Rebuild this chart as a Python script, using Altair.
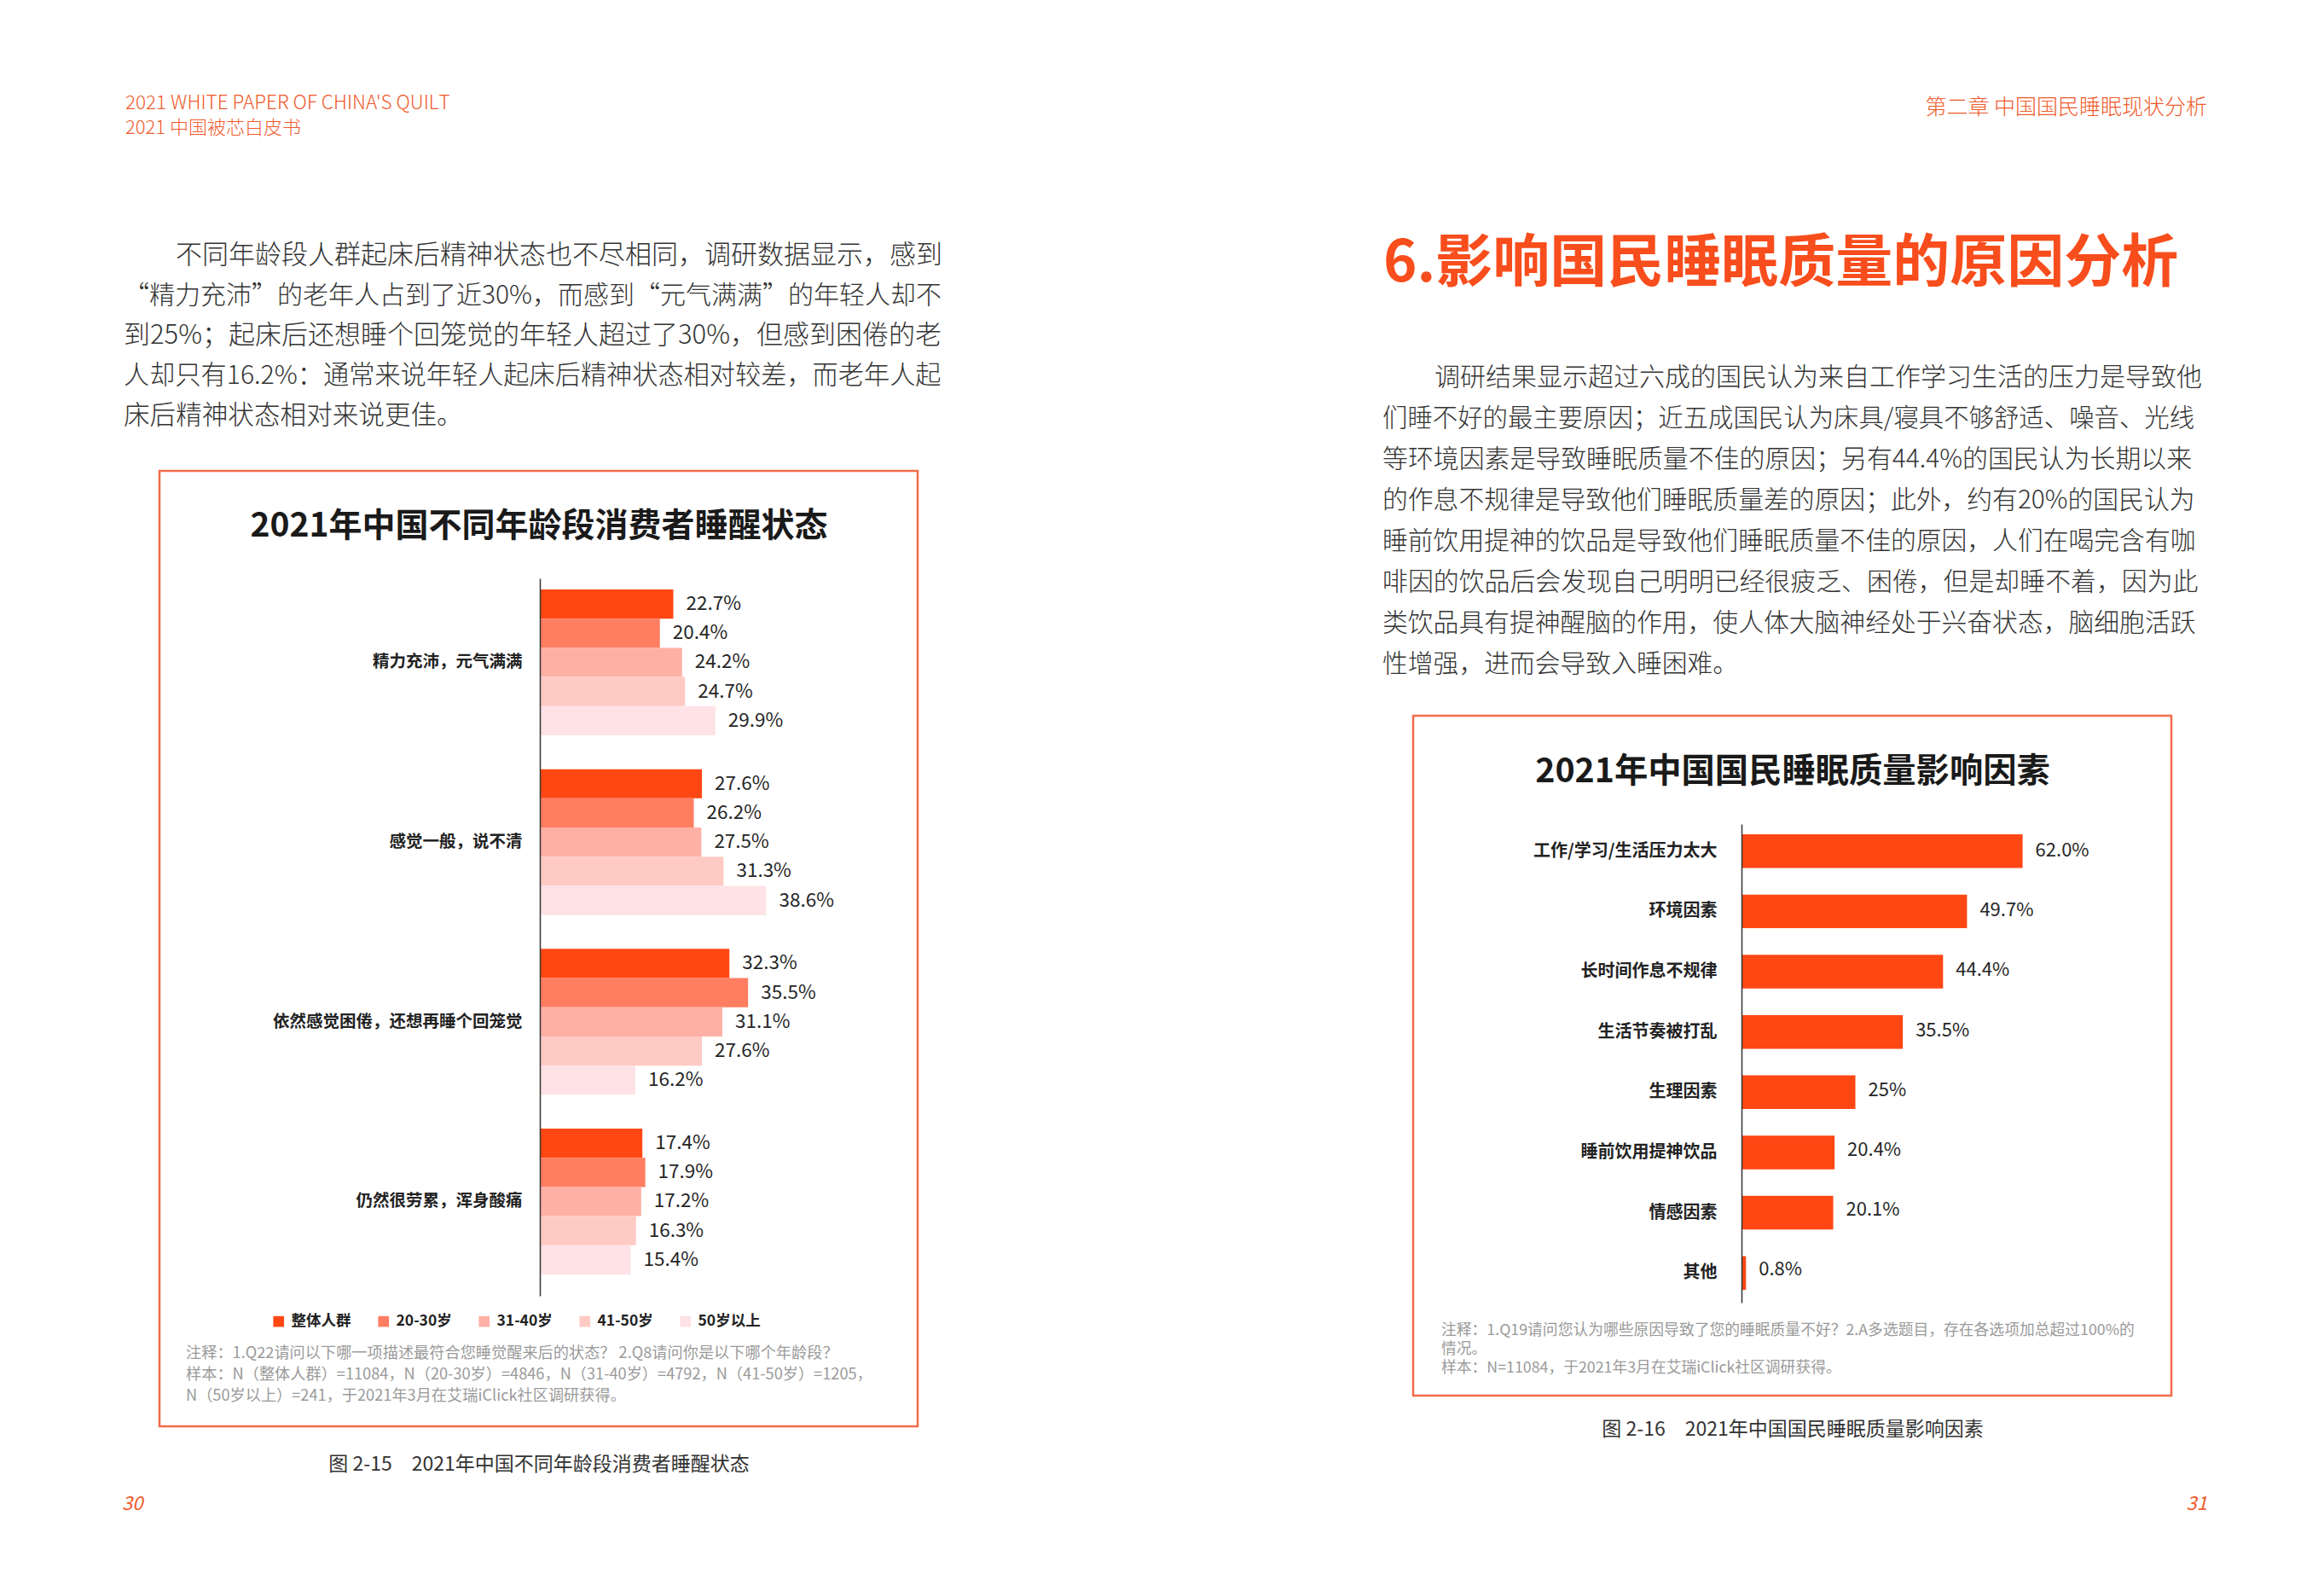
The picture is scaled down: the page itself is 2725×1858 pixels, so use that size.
import altair as alt
import pandas as pd

FONT = "Noto Sans CJK SC"
OFF = 8  # page margin

# ---------------- data: chart 1 (wake-up state by age group) ----------------
wake_states = ["精力充沛，元气满满", "感觉一般，说不清", "依然感觉困倦，还想再睡个回笼觉", "仍然很劳累，浑身酸痛"]
age_groups = ["整体人群", "20-30岁", "31-40岁", "41-50岁", "50岁以上"]
vals_all = [22.7, 27.6, 32.3, 17.4]
vals_20_30 = [20.4, 26.2, 35.5, 17.9]
vals_31_40 = [24.2, 27.5, 31.1, 17.2]
vals_41_50 = [24.7, 31.3, 27.6, 16.3]
vals_50_plus = [29.9, 38.6, 16.2, 15.4]
age_colors = ["#FF4714", "#FF7D60", "#FFB0A5", "#FFCAC4", "#FFE2E6"]

# ---------------- data: chart 2 (sleep quality factors) ----------------
factors = ["工作/学习/生活压力太大", "环境因素", "长时间作息不规律", "生活节奏被打乱",
           "生理因素", "睡前饮用提神饮品", "情感因素", "其他"]
factor_vals = [62.0, 49.7, 44.4, 35.5, 25.0, 20.4, 20.1, 0.8]
factor_labels = ["62.0%", "49.7%", "44.4%", "35.5%", "25%", "20.4%", "20.1%", "0.8%"]

# ---------------- page texts ----------------
header_left = ["2021 WHITE PAPER OF CHINA'S QUILT", "2021 中国被芯白皮书"]
header_right = "第二章 中国国民睡眠现状分析"
section_title = "6.影响国民睡眠质量的原因分析"
para_left = [
    "不同年龄段人群起床后精神状态也不尽相同，调研数据显示，感到",
    "“精力充沛”的老年人占到了近30%，而感到“元气满满”的年轻人却不",
    "到25%；起床后还想睡个回笼觉的年轻人超过了30%，但感到困倦的老",
    "人却只有16.2%：通常来说年轻人起床后精神状态相对较差，而老年人起",
    "床后精神状态相对来说更佳。",
]
para_right = [
    "调研结果显示超过六成的国民认为来自工作学习生活的压力是导致他",
    "们睡不好的最主要原因；近五成国民认为床具/寝具不够舒适、噪音、光线",
    "等环境因素是导致睡眠质量不佳的原因；另有44.4%的国民认为长期以来",
    "的作息不规律是导致他们睡眠质量差的原因；此外，约有20%的国民认为",
    "睡前饮用提神的饮品是导致他们睡眠质量不佳的原因，人们在喝完含有咖",
    "啡因的饮品后会发现自己明明已经很疲乏、困倦，但是却睡不着，因为此",
    "类饮品具有提神醒脑的作用，使人体大脑神经处于兴奋状态，脑细胞活跃",
    "性增强，进而会导致入睡困难。",
]
chart1_title = "2021年中国不同年龄段消费者睡醒状态"
chart2_title = "2021年中国国民睡眠质量影响因素"
notes_left = [
    "注释：1.Q22请问以下哪一项描述最符合您睡觉醒来后的状态？ 2.Q8请问你是以下哪个年龄段？",
    "样本：N（整体人群）=11084，N（20-30岁）=4846，N（31-40岁）=4792，N（41-50岁）=1205，",
    "N（50岁以上）=241，于2021年3月在艾瑞iClick社区调研获得。",
]
notes_right = [
    "注释：1.Q19请问您认为哪些原因导致了您的睡眠质量不好？2.A多选题目，存在各选项加总超过100%的",
    "情况。",
    "样本：N=11084，于2021年3月在艾瑞iClick社区调研获得。",
]
caption_left = "图 2-15　2021年中国不同年龄段消费者睡醒状态"
caption_right = "图 2-16　2021年中国国民睡眠质量影响因素"
page_nums = ["30", "31"]

ORANGE = "#EF5A2B"
TITLE_RED = "#F84D1C"
BOX = "#F26B4B"
BODY = "#333333"
NOTE = "#9A9A9A"


def txt(rows, align="left", weight="normal", style="normal"):
    df = pd.DataFrame(rows, columns=["text", "x", "y", "size", "color"])
    df["x"] = df["x"] - OFF
    df["y"] = df["y"] - OFF
    return alt.Chart(df).mark_text(
        align=align, baseline="middle", font=FONT, fontWeight=weight, fontStyle=style
    ).encode(
        x=alt.X("x:Q", scale=None, axis=None),
        y=alt.Y("y:Q", scale=None, axis=None),
        size=alt.Size("size:Q", scale=None, legend=None),
        color=alt.Color("color:N", scale=None, legend=None),
        text="text:N",
    )


layers = []

# frames around the two charts
frames = pd.DataFrame({
    "x": [187 - OFF, 1657 - OFF], "x2": [1076 - OFF, 2546 - OFF],
    "y": [552 - OFF, 839 - OFF], "y2": [1672 - OFF, 1636 - OFF],
})
layers.append(
    alt.Chart(frames).mark_rect(fillOpacity=0, stroke=BOX, strokeWidth=2.5).encode(
        x=alt.X("x:Q", scale=None, axis=None), x2="x2:Q",
        y=alt.Y("y:Q", scale=None, axis=None), y2="y2:Q",
    )
)

# light body text: headers and paragraphs (sizes tuned so lines fill the justified width)
left_sizes = [31, 30.0, 31, 30.2, 30.6]
right_sizes = [30.0, 29.4, 29.9, 29.8, 29.8, 29.9, 29.8, 29.8]
light_rows = [
    (header_left[0], 147, 121, 22.5, ORANGE),
    (header_left[1], 147, 150, 22, ORANGE),
]
for i, line in enumerate(para_left):
    light_rows.append((line, 206 if i == 0 else 145, 300 + 47 * i, left_sizes[i], BODY))
for i, line in enumerate(para_right):
    light_rows.append((line, 1682 if i == 0 else 1621, 443 + 48 * i, right_sizes[i], BODY))
layers.append(txt(light_rows, weight=300))
layers.append(txt([(header_right, 2588, 126, 25, ORANGE)], align="right", weight=300))

# bold titles
layers.append(txt([(section_title, 1622, 310, 67, TITLE_RED)], weight="bold"))
layers.append(txt([(chart1_title, 632, 617, 39, "#1A1A1A"),
                   (chart2_title, 2102, 905, 39.3, "#1A1A1A")], align="center", weight="bold"))

# notes, captions
note_rows = [(t, 218, 1587 + 25 * i, 18.2, NOTE) for i, t in enumerate(notes_left)]
note_rows += [(t, 1690, [1560, 1582, 1604][i], 17.8, NOTE) for i, t in enumerate(notes_right)]
layers.append(txt(note_rows))
layers.append(txt([(caption_left, 632, 1717, 23, BODY),
                   (caption_right, 2102, 1676, 23, BODY)], align="center"))
layers.append(txt([(page_nums[0], 143, 1763, 22, ORANGE)], style="italic"))
layers.append(txt([(page_nums[1], 2588, 1763, 22, ORANGE)], align="right", style="italic"))

# ---------------- chart 1: grouped horizontal bars ----------------
rows = []
for g, vals in zip(age_groups, [vals_all, vals_20_30, vals_31_40, vals_41_50, vals_50_plus]):
    for s, v in zip(wake_states, vals):
        rows.append({"state": s, "group": g, "value": v, "label": f"{v:.1f}%"})
df1 = pd.DataFrame(rows)

L_AXIS = 633 - OFF
L_X0 = 634 - OFF
L_PX = 6.85
yL = alt.Scale(domain=wake_states, range=[678 - OFF, 1519 - OFF],
               paddingInner=0.1883, paddingOuter=0.0902, align=0.342)
yoL = alt.Scale(domain=age_groups, range=[0, 171.0], paddingInner=0, paddingOuter=0)
xL = alt.Scale(domain=[0, 100], range=[L_X0, L_X0 + 100 * L_PX])

bars1 = alt.Chart(df1).mark_bar().encode(
    x=alt.X("value:Q", scale=xL, axis=None),
    y=alt.Y("state:N", sort=wake_states, scale=yL,
            axis=alt.Axis(orient="left", offset=-L_AXIS, title=None, ticks=False, grid=False,
                          domain=True, domainColor="#333333", domainWidth=1.5, zindex=1,
                          labelFont=FONT, labelFontSize=19.5, labelFontWeight="bold",
                          labelColor="#222222", labelPadding=21, labelLimit=500)),
    yOffset=alt.YOffset("group:N", sort=age_groups, scale=yoL),
    color=alt.Color("group:N", sort=age_groups,
                    scale=alt.Scale(domain=age_groups, range=age_colors),
                    legend=alt.Legend(orient="none", legendX=310, legendY=1532, direction="horizontal",
                                      title=None, symbolType="square", symbolSize=160,
                                      symbolStrokeWidth=0, labelFont=FONT, labelFontSize=17.5,
                                      labelFontWeight="bold", labelColor="#222222",
                                      columnPadding=29, labelOffset=6, padding=0)),
)
labels1 = alt.Chart(df1).mark_text(align="left", baseline="middle", dx=15, font=FONT,
                                    fontSize=22.5, color="#262626").encode(
    x=alt.X("value:Q", scale=xL, axis=None),
    y=alt.Y("state:N", sort=wake_states, scale=yL, axis=None),
    yOffset=alt.YOffset("group:N", sort=age_groups, scale=yoL),
    text="label:N",
)
layers += [bars1, labels1]

# ---------------- chart 2: single-series horizontal bars ----------------
df2 = pd.DataFrame({"factor": factors, "value": factor_vals, "label": factor_labels})
R_AXIS = 2042 - OFF
R_X0 = 2043 - OFF
R_PX = 5.3
yR = alt.Scale(domain=factors, range=[966 - OFF, 1527 - OFF],
               paddingInner=0.441, paddingOuter=0.191, align=0.444)
xR = alt.Scale(domain=[0, 100], range=[R_X0, R_X0 + 100 * R_PX])

bars2 = alt.Chart(df2).mark_bar(color="#FF4714").encode(
    x=alt.X("value:Q", scale=xR, axis=None),
    y=alt.Y("factor:N", sort=factors, scale=yR,
            axis=alt.Axis(orient="left", offset=-R_AXIS, title=None, ticks=False, grid=False,
                          domain=True, domainColor="#333333", domainWidth=1.5, zindex=1,
                          labelFont=FONT, labelFontSize=20, labelFontWeight="bold",
                          labelColor="#222222", labelPadding=29, labelLimit=500)),
)
labels2 = alt.Chart(df2).mark_text(align="left", baseline="middle", dx=15, font=FONT,
                                    fontSize=22, color="#262626").encode(
    x=alt.X("value:Q", scale=xR, axis=None),
    y=alt.Y("factor:N", sort=factors, scale=yR, axis=None),
    text="label:N",
)
layers += [bars2, labels2]

chart = alt.layer(*layers).resolve_scale(
    x="independent", y="independent", color="independent"
).properties(
    width=2700, height=1800, padding=0,
    autosize=alt.AutoSizeParams(type="none"), background="white",
).configure_view(strokeWidth=0)

chart.save("out.html", embed_options={"renderer": "svg", "actions": False})
